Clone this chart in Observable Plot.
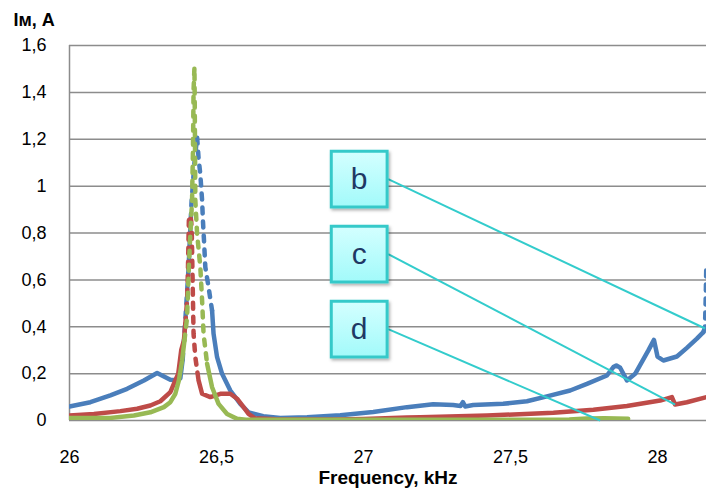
<!DOCTYPE html>
<html>
<head>
<meta charset="utf-8">
<script src="https://cdn.jsdelivr.net/npm/d3@7"></script>
<script src="https://cdn.jsdelivr.net/npm/@observablehq/plot@0.6"></script>
<style>
  html, body { margin: 0; padding: 0; background: #fff; }
  #chart { width: 706px; height: 491px; }
</style>
</head>
<body>
<div id="chart"></div>
<script>
// Magnetising current Iм (A) against frequency (kHz), three measured sweeps b, c, d.
const bFreq = [26.000, 26.071, 26.139, 26.196, 26.253, 26.298, 26.343, 26.366, 26.377, 26.385, 26.395, 26.405,
  26.415, 26.425, 26.434, 26.439, 26.445, 26.451, 26.454, 26.457, 26.462, 26.473, 26.485, 26.490, 26.502, 26.519,
  26.547, 26.581, 26.609, 26.659, 26.717, 26.808, 26.921, 27.033, 27.148, 27.237, 27.305, 27.330, 27.338, 27.346,
  27.373, 27.475, 27.556, 27.624, 27.703, 27.760, 27.828, 27.850, 27.860, 27.873, 27.896, 27.924, 27.969, 27.988,
  28.000, 28.020, 28.066, 28.100, 28.134, 28.156, 28.1615, 28.164, 28.166];
const bCurrent = [0.060, 0.078, 0.107, 0.135, 0.171, 0.203, 0.174, 0.172, 0.180, 0.260, 0.450, 0.650,
  0.930, 1.100, 1.210, 1.120, 1.050, 0.940, 0.850, 0.780, 0.654, 0.569, 0.469, 0.370, 0.270, 0.199,
  0.128, 0.071, 0.035, 0.018, 0.011, 0.014, 0.022, 0.036, 0.057, 0.069, 0.066, 0.062, 0.078, 0.060,
  0.066, 0.071, 0.082, 0.103, 0.128, 0.156, 0.192, 0.228, 0.235, 0.225, 0.171, 0.199, 0.299, 0.344,
  0.273, 0.256, 0.273, 0.310, 0.349, 0.377, 0.398, 0.520, 0.660];

const cFreq = [26.000, 26.083, 26.173, 26.230, 26.275, 26.309, 26.343, 26.360, 26.370, 26.380, 26.389, 26.394,
  26.400, 26.403, 26.406, 26.411, 26.414, 26.416, 26.418, 26.420, 26.422, 26.428, 26.439, 26.451, 26.479,
  26.513, 26.547, 26.570, 26.592, 26.609, 26.630, 26.700, 26.900, 27.000, 27.148, 27.193, 27.420, 27.646,
  27.782, 27.896, 28.009, 28.049, 28.060, 28.100, 28.167];
const cCurrent = [0.021, 0.028, 0.040, 0.050, 0.064, 0.082, 0.121, 0.171, 0.200, 0.300, 0.341, 0.413,
  0.512, 0.650, 0.853, 0.875, 0.850, 0.797, 0.654, 0.512, 0.370, 0.270, 0.171, 0.114, 0.100,
  0.114, 0.114, 0.093, 0.057, 0.028, 0.010, 0.005, 0.004, 0.006, 0.013, 0.014, 0.021, 0.033,
  0.046, 0.062, 0.085, 0.100, 0.068, 0.078, 0.100];

const dFreq = [26.000, 26.139, 26.219, 26.275, 26.321, 26.343, 26.360, 26.372, 26.383, 26.391, 26.400, 26.406,
  26.411, 26.417, 26.418, 26.420, 26.421, 26.422, 26.425, 26.426, 26.427, 26.428, 26.434, 26.445, 26.451,
  26.456, 26.468, 26.485, 26.507, 26.536, 26.570, 26.600, 27.000, 27.500, 27.700, 27.760, 27.820, 27.900];
const dCurrent = [0.011, 0.011, 0.021, 0.035, 0.057, 0.078, 0.114, 0.171, 0.256, 0.341, 0.441, 0.654,
  0.797, 0.939, 1.024, 1.152, 1.280, 1.408, 1.507, 1.350, 1.150, 0.939, 0.797, 0.654, 0.512,
  0.370, 0.242, 0.142, 0.071, 0.028, 0.007, 0.003, 0.003, 0.003, 0.004, 0.009, 0.010, 0.008];

// Frequency ranges where each sweep is drawn dashed
const bDashed = [[26.393, 26.486], [28.161, 28.17]];
const cDashed = [[26.398, 26.445]];
const dDashed = [[26.398, 26.468]];

const seriesNames = ["b", "c", "d"];
const seriesColors = ["#4a7ebb", "#be4b48", "#98b954"];

const xTicks = [26, 26.5, 27, 27.5, 28];
const yTicks = [0, 0.2, 0.4, 0.6, 0.8, 1, 1.2, 1.4, 1.6];

// Callouts: label, point where the leader leaves the box, point it reaches
const calloutLabels = ["b", "c", "d"];
const calloutFreq = [27.084, 27.084, 27.084];
const calloutCurrent = [1.030, 0.710, 0.390];
const calloutTipFreq = [28.162, 28.060, 27.805];
const calloutTipCurrent = [0.3925, 0.068, 0.0];

const yTitle = "Iм, A";
const xTitle = "Frequency, kHz";

const commaFormat = d => String(d).replace(".", ",");

// Split a sweep into alternating solid / dashed runs sharing their end points
function runs(freq, current, spans) {
  const out = [];
  let cur = null, id = 0;
  freq.forEach((f, i) => {
    const dashed = spans.some(([a, b]) => f >= a && f <= b);
    const p = {f, v: current[i]};
    if (!cur || cur.dashed !== dashed) {
      const prev = cur ? cur.pts[cur.pts.length - 1] : null;
      cur = {dashed, id: id++, pts: prev ? [prev] : []};
      out.push(cur);
    }
    cur.pts.push(p);
  });
  const rows = d => out.filter(r => r.dashed === d).flatMap(r => r.pts.map(p => ({...p, run: r.id})));
  return {solid: rows(false), dashed: rows(true)};
}

const sweeps = [
  runs(bFreq, bCurrent, bDashed),
  runs(cFreq, cCurrent, cDashed),
  runs(dFreq, dCurrent, dDashed)
];

const lineMarks = sweeps.flatMap((s, i) => [
  Plot.line(s.solid, {x: "f", y: "v", z: "run", stroke: seriesColors[i], strokeWidth: 4.5,
    strokeLinejoin: "round", strokeLinecap: "round", clip: true}),
  Plot.line(s.dashed, {x: "f", y: "v", z: "run", stroke: seriesColors[i], strokeWidth: 4.5,
    strokeDasharray: "6,8", strokeLinejoin: "round", strokeLinecap: "round", clip: true})
]);

const callouts = calloutLabels.map((label, i) => ({
  label, x: calloutFreq[i], y: calloutCurrent[i], tx: calloutTipFreq[i], ty: calloutTipCurrent[i]
}));

// Gradient fill and soft shadow for the callout boxes
const defs = () => {
  const d = d3.create("svg:defs");
  const g = d.append("linearGradient").attr("id", "callout-fill")
    .attr("x1", 0).attr("y1", 0).attr("x2", 0).attr("y2", 1);
  g.append("stop").attr("offset", "0%").attr("stop-color", "#d4ffff");
  g.append("stop").attr("offset", "100%").attr("stop-color", "#a2fafa");
  const f = d.append("filter").attr("id", "callout-shadow")
    .attr("x", "-20%").attr("y", "-20%").attr("width", "150%").attr("height", "150%");
  f.append("feDropShadow").attr("dx", 1.5).attr("dy", 2).attr("stdDeviation", 1.5)
    .attr("flood-color", "#000").attr("flood-opacity", 0.3);
  return d.node();
};

const chart = Plot.plot({
  width: 706,
  height: 491,
  marginLeft: 69,
  marginRight: 0,
  marginTop: 45,
  marginBottom: 71,
  style: {fontFamily: "'Liberation Sans', Arial, sans-serif", fontSize: "18px", color: "#000", background: "#fff"},
  x: {domain: [26, 28.1667]},
  y: {domain: [0, 1.6]},
  marks: [
    defs,
    Plot.gridY(yTicks, {stroke: "#8c8c8c", strokeOpacity: 1, strokeWidth: 1.5}),
    Plot.ruleX([26], {stroke: "#8c8c8c", strokeWidth: 1.5}),
    Plot.axisY(yTicks, {tickSize: 0, tickPadding: 23, tickFormat: commaFormat, label: null, fontSize: 18}),
    Plot.axisX(xTicks, {tickSize: 0, tickPadding: 30, tickFormat: commaFormat, label: null, fontSize: 18}),
    ...lineMarks,
    Plot.link(callouts, {x1: "x", y1: "y", x2: "tx", y2: "ty", stroke: "#33cccc", strokeWidth: 2}),
    Plot.dot(callouts, {x: "x", y: "y", dx: -29, symbol: "square", r: 31.5,
      fill: "url(#callout-fill)", stroke: "#36c9c9", strokeWidth: 3}),
    Plot.text(callouts, {x: "x", y: "y", dx: -29, text: "label", fontSize: 30, fill: "#1f3864"}),
    Plot.text([yTitle], {frameAnchor: "top-left", dx: -56, dy: -25, textAnchor: "start",
      lineAnchor: "middle", fontWeight: "bold", fontSize: 18}),
    Plot.text([xTitle], {frameAnchor: "bottom", dy: 57, lineAnchor: "middle",
      fontWeight: "bold", fontSize: 19})
  ]
});

d3.select(chart).selectAll("g[aria-label='dot'] path").attr("filter", "url(#callout-shadow)");
document.getElementById("chart").appendChild(chart);
</script>
</body>
</html>
